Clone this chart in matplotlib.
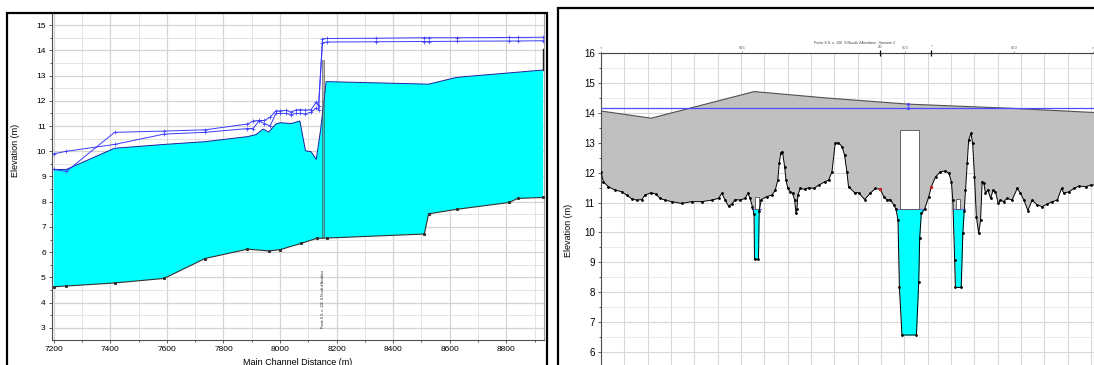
import numpy as np
import matplotlib.pyplot as plt
from matplotlib.patches import Rectangle
from matplotlib.ticker import MultipleLocator, FixedLocator

plt.rcParams['font.family'] = ['Liberation Sans', 'DejaVu Sans']

# ---------------- left panel: longitudinal profile ----------------
bed_x = [7200, 7245, 7415, 7590, 7735, 7885, 7960, 8000, 8075, 8130, 8165,
         8510, 8525, 8625, 8810, 8840, 8930]
bed_z = [4.63, 4.66, 4.78, 4.96, 5.75, 6.12, 6.05, 6.10, 6.35, 6.55, 6.56,
         6.72, 7.52, 7.70, 7.97, 8.13, 8.17]

ws_x = [7200, 7245, 7415, 7590, 7735, 7885, 7915, 7940, 7960, 7985, 8000,
        8040, 8070, 8090, 8110, 8128, 8143, 8163, 8525, 8625, 8930]
ws_z = [9.28, 9.28, 10.12, 10.27, 10.38, 10.58, 10.66, 10.88, 10.76, 11.08, 11.13,
        11.10, 11.20, 10.02, 9.98, 9.68, 10.82, 12.76, 12.66, 12.93, 13.22]

sec_x = [7200, 7245, 7415, 7590, 7735, 7885, 7905, 7925, 7945, 7965, 7985, 8000,
         8022, 8040, 8055, 8070, 8090, 8110, 8128, 8136, 8150, 8165, 8340, 8510,
         8525, 8625, 8810, 8840, 8930]
line_a = [9.90, 10.0, 10.27, 10.68, 10.75, 10.9, 10.9, 11.2, 11.1, 11.0, 11.5, 11.5,
          11.5, 11.45, 11.5, 11.5, 11.48, 11.55, 11.72, 11.65, 14.3, 14.33, 14.34, 14.35,
          14.35, 14.36, 14.37, 14.37, 14.38]
line_b = [9.28, 9.2, 10.75, 10.8, 10.85, 11.08, 11.2, 11.22, 11.22, 11.35, 11.6, 11.6,
          11.62, 11.55, 11.63, 11.65, 11.63, 11.65, 11.95, 11.8, 14.45, 14.47, 14.48, 14.5,
          14.5, 14.5, 14.51, 14.51, 14.52]

bridge_x = (8147, 8157)
bridge_z = (6.55, 13.6)
levee_top = 14.07
bridge_name = "Ponte S.S. n. 126  S.Nicolò d'Arcidano"

# ---------------- right panel: bridge cross section ----------------
gr_st = [0, 1.0, 3.1, 6.0, 8.9, 11.0, 13.2, 15.3, 17.5, 18.9, 21.5, 23.5, 25.3, 27.5,
         30.3, 34.6, 38.9, 43.2, 47.5, 50.4, 51.8, 53.2, 54.7, 56.1, 57.5, 59.7, 61.8,
         63.0, 63.9, 64.9, 65.6, 65.8, 67.5, 67.8, 68.7, 71.1, 73.3, 74.7, 75.8, 76.4,
         77.1, 77.8, 78.7, 79.3, 80.1, 81.1, 82.1, 83.0, 83.6, 84.0, 84.4, 85.4, 87.3,
         89.0, 91.2, 93.3, 96.1, 97.6, 99.0, 100.4, 101.8, 103.3, 104.4, 105.4, 106.1,
         108.7, 110.4, 113.0, 115.4, 117.6, 119.7, 121.2, 122.6, 124.0, 125.5, 126.5,
         127.3, 127.9, 129.0, 135.2, 136.2, 136.6, 137.3, 138.7, 140.5, 141.6, 143.4,
         145.5, 147.6, 149.1, 150.2, 150.8, 151.6, 151.9, 154.4, 155.1, 155.7, 156.2,
         156.9, 157.6, 158.6, 159.3, 160.1, 160.9, 161.9, 162.7, 163.4, 164.1, 164.8,
         165.8, 167.0, 168.1, 169.1, 170.3, 171.2, 172.6, 174.1, 176.2, 178.4, 179.8,
         181.3, 183.0, 184.8, 187.0, 189.1, 191.3, 193.4, 195.6, 197.4, 198.4, 200.6,
         202.7, 204.9, 207.7, 209.9, 214.0]
gr_z = [12.03, 11.7, 11.53, 11.42, 11.36, 11.25, 11.12, 11.08, 11.1, 11.25, 11.33, 11.28,
        11.14, 11.08, 11.03, 10.97, 11.03, 11.03, 11.08, 11.14, 11.31, 11.08, 10.88, 10.95,
        11.1, 11.08, 11.14, 11.31, 11.14, 10.86, 10.6, 9.1, 9.1, 10.7, 11.1, 11.2, 11.25,
        11.42, 11.75, 12.31, 12.67, 12.7, 12.2, 11.75, 11.47, 11.36, 11.31, 11.08, 10.64,
        10.8, 11.25, 11.47, 11.44, 11.5, 11.47, 11.58, 11.7, 11.75, 12.03, 12.98, 13.0,
        12.87, 12.59, 12.03, 11.53, 11.33, 11.33, 11.1, 11.31, 11.47, 11.44, 11.2, 11.08,
        11.1, 10.92, 10.77, 10.41, 8.18, 6.57, 6.57, 8.35, 9.8, 10.64, 10.77, 11.2, 11.53,
        11.86, 12.03, 12.06, 11.98, 11.7, 11.08, 9.08, 8.16, 8.16, 9.97, 10.73, 11.42,
        12.31, 13.09, 13.31, 12.98, 11.86, 10.53, 9.97, 10.41, 11.7, 11.64, 11.31, 11.42,
        11.14, 11.42, 11.36, 10.97, 11.08, 11.03, 11.14, 11.08, 11.47, 11.31, 11.08, 10.73,
        11.08, 10.92, 10.86, 10.95, 11.03, 11.08, 11.47, 11.31, 11.36, 11.47, 11.55, 11.53,
        11.58, 11.6]

deck_st = [0, 21.5, 65.7, 96.0, 131.8, 176.0, 214.0]
deck_z = [14.06, 13.82, 14.71, 14.5, 14.29, 14.15, 14.0]

ws_main = 14.15
ws_channel = 10.78
channels = [(64.9, 68.7), (126.5, 138.7), (150.8, 156.0)]
openings = [(65.9, 67.6, 11.2), (128.0, 136.2, 13.42), (152.2, 154.0, 11.12)]
bank_st = [119.7, 141.6]
bank_z = [11.44, 11.53]
bank_lab = ['20', '*']
top_pos = [0, 60.5, 130.5, 177, 211]
top_lab = ['<', '555', '600', '800', '>']

W, H = 1094, 365
fig = plt.figure(figsize=(W / 100, H / 100), dpi=100)

# ===== left =====
ax1 = fig.add_axes([52 / W, (H - 340) / H, (544 - 52) / W, (340 - 14) / H])
ax1.set_xlim(7194, 8933)
ax1.set_ylim(2.52, 15.44)
ax1.xaxis.set_major_locator(MultipleLocator(200))
ax1.xaxis.set_minor_locator(MultipleLocator(100))
ax1.yaxis.set_major_locator(MultipleLocator(1))
ax1.yaxis.set_minor_locator(MultipleLocator(0.5))
ax1.set_axisbelow(True)
ax1.grid(which='major', color='#d4d4d4', lw=0.9)
ax1.grid(which='minor', color='#e4e4e4', lw=0.7)
ax1.tick_params(which='both', labelsize=6, length=2.5, width=0.6, color='#404040', pad=2)
ax1.tick_params(which='minor', length=1.5)
ax1.spines['top'].set_visible(False)
for s in ['left', 'bottom', 'right']:
    ax1.spines[s].set_color('#505050')
    ax1.spines[s].set_linewidth(0.8)
ax1.spines['right'].set_color('#a0a0a0')

# water body
ax1.fill(np.r_[ws_x, bed_x[::-1]], np.r_[ws_z, bed_z[::-1]],
         facecolor='#00ffff', edgecolor='none', zorder=2)
ax1.plot(ws_x, ws_z, color='#2020a0', lw=0.7, zorder=3)
ax1.plot(bed_x, bed_z, color='#303030', lw=0.8, marker='s', ms=1.2, zorder=3)
# bridge
ax1.add_patch(Rectangle((bridge_x[0], bridge_z[0]), bridge_x[1] - bridge_x[0],
                        bridge_z[1] - bridge_z[0], facecolor='#808080', alpha=0.55,
                        edgecolor='#303030', lw=0.6, zorder=4))
ax1.plot([ws_x[-1], ws_x[-1]], [ws_z[-1], levee_top], color='#202020', lw=1.0, zorder=4)
# energy / water lines
ax1.plot(sec_x, line_a, color='#3a3aff', lw=0.7, marker='+', ms=2.2, mew=0.5, zorder=5)
ax1.plot(sec_x, line_b, color='#3a3aff', lw=0.7, marker='+', ms=2.2, mew=0.5, zorder=5)
ax1.text(sum(bridge_x) / 2, 3.0, bridge_name, rotation=90, fontsize=2.4,
         ha='center', va='bottom', color='#202020')

ax1.set_xlabel('Main Channel Distance (m)', fontsize=6.5)
ax1.xaxis.set_label_coords(0.5, -0.055)
ax1.set_ylabel('Elevation (m)', fontsize=6.5)
ax1.yaxis.set_label_coords(-0.066, 0.583)

# ===== right =====
bottom_px = 367
ax2 = fig.add_axes([601 / W, (H - bottom_px) / H, (1100 - 601) / W, (bottom_px - 53) / H])
ax2.set_xlim(0, 213.9)
ax2.set_ylim(5.5, 16)
ax2.xaxis.set_major_locator(MultipleLocator(10))
ax2.yaxis.set_major_locator(MultipleLocator(1))
ax2.yaxis.set_minor_locator(MultipleLocator(0.5))
ax2.set_axisbelow(True)
ax2.grid(which='major', color='#d8d8d8', lw=0.8)
ax2.grid(which='minor', axis='y', color='#e8e8e8', lw=0.6)
ax2.tick_params(axis='x', bottom=False, labelbottom=False)
ax2.tick_params(axis='y', which='both', labelsize=7, length=2.5, width=0.6, color='#404040', pad=2)
ax2.tick_params(axis='y', which='minor', length=1.5)
for s in ['right', 'bottom']:
    ax2.spines[s].set_visible(False)
ax2.spines['left'].set_color('#505050')
ax2.spines['top'].set_color('#404040')
ax2.spines['left'].set_linewidth(0.8)
ax2.spines['top'].set_linewidth(0.8)

ax2.fill(np.r_[deck_st, gr_st[::-1]], np.r_[deck_z, gr_z[::-1]],
         facecolor='#c0c0c0', edgecolor='none', zorder=2)
st = np.array(gr_st)
z = np.array(gr_z)
for lo, hi in channels:
    m = (st >= lo) & (st <= hi)
    ax2.fill_between(st[m], z[m], ws_channel, where=z[m] < ws_channel,
                     interpolate=True, color='#00ffff', lw=0, zorder=3)
    ax2.plot([lo, hi], [ws_channel, ws_channel], color='#6a6aff', lw=0.8, zorder=4)
for lo, hi, top in openings:
    ax2.add_patch(Rectangle((lo, ws_channel), hi - lo, top - ws_channel,
                            facecolor='white', edgecolor='#505050', lw=0.6, zorder=4))
ax2.plot(deck_st, deck_z, color='#505050', lw=0.8, zorder=5)
ax2.plot(gr_st, gr_z, color='black', lw=0.7, marker='o', ms=1.0, zorder=5)
ax2.plot(bank_st, bank_z, 'o', color='#d02020', ms=1.4, zorder=6)
ax2.axhline(ws_main, color='#4a4aff', lw=0.9, zorder=6)
ax2.plot([deck_st[4], deck_st[4]], [deck_z[4], ws_main], 'o', color='#4a4aff', ms=1.3, zorder=6)

ax2.set_ylabel('Elevation (m)', fontsize=6.5)
ax2.yaxis.set_label_coords(-0.056, 0.436)

top = ax2.twiny()
top.set_xlim(ax2.get_xlim())
for s in ['left', 'right', 'bottom', 'top']:
    top.spines[s].set_visible(False)
top.xaxis.set_major_locator(FixedLocator(top_pos))
top.set_xticklabels(top_lab)
top.set_xticks(bank_st, bank_lab, minor=True)
top.tick_params(which='major', labelsize=3, length=1.5, width=0.5, color='#707070',
                labelcolor='#606060', pad=1)
top.tick_params(which='minor', labelsize=3, length=5, width=0.9, color='black',
                direction='inout', labelcolor='#404040', pad=0.5)
ax2.text(108.6, 16.33, bridge_name + ' - Variante 2', fontsize=2.6, ha='center',
         va='center', color='#404040', clip_on=False)

# panel frames (screenshot borders)
fig.add_artist(Rectangle((7 / W, -0.05), (547 - 7) / W, (H - 13) / H + 0.05,
                         transform=fig.transFigure, fill=False, ec='black', lw=1.6))
fig.add_artist(Rectangle((558 / W, -0.05), 1.1 - 558 / W, (H - 8) / H + 0.05,
                         transform=fig.transFigure, fill=False, ec='black', lw=1.6))

fig.savefig('out.png', dpi=100)
